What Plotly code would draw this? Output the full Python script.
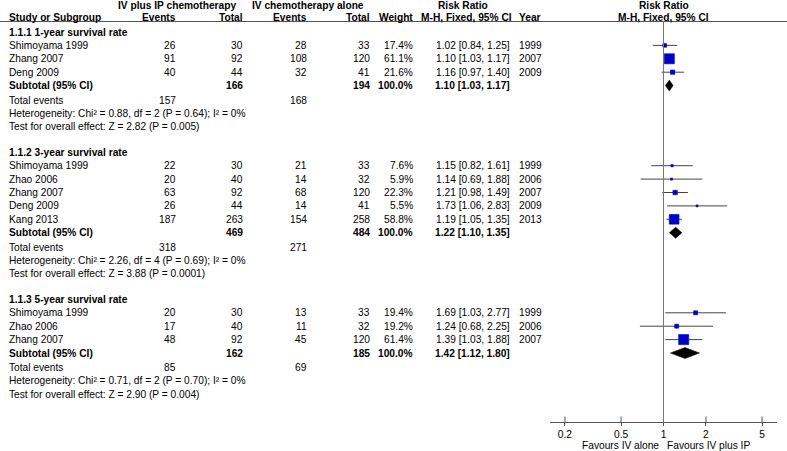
import plotly.graph_objects as go

# ---------------- data ----------------
section_titles = ["1.1.1 1-year survival rate", "1.1.2 3-year survival rate", "1.1.3 5-year survival rate"]

s1_study = ["Shimoyama 1999", "Zhang 2007", "Deng 2009"]
s1_ev_ip = [26, 91, 40]
s1_tot_ip = [30, 92, 44]
s1_ev_iv = [28, 108, 32]
s1_tot_iv = [33, 120, 41]
s1_weight = [17.4, 61.1, 21.6]
s1_rr = [1.02, 1.10, 1.16]
s1_lo = [0.84, 1.03, 0.97]
s1_hi = [1.25, 1.17, 1.40]
s1_year = [1999, 2007, 2009]

s2_study = ["Shimoyama 1999", "Zhao 2006", "Zhang 2007", "Deng 2009", "Kang 2013"]
s2_ev_ip = [22, 20, 63, 26, 187]
s2_tot_ip = [30, 40, 92, 44, 263]
s2_ev_iv = [21, 14, 68, 14, 154]
s2_tot_iv = [33, 32, 120, 41, 258]
s2_weight = [7.6, 5.9, 22.3, 5.5, 58.8]
s2_rr = [1.15, 1.14, 1.21, 1.73, 1.19]
s2_lo = [0.82, 0.69, 0.98, 1.06, 1.05]
s2_hi = [1.61, 1.88, 1.49, 2.83, 1.35]
s2_year = [1999, 2006, 2007, 2009, 2013]

s3_study = ["Shimoyama 1999", "Zhao 2006", "Zhang 2007"]
s3_ev_ip = [20, 17, 48]
s3_tot_ip = [30, 40, 92]
s3_ev_iv = [13, 11, 45]
s3_tot_iv = [33, 32, 120]
s3_weight = [19.4, 19.2, 61.4]
s3_rr = [1.69, 1.24, 1.39]
s3_lo = [1.03, 0.68, 1.03]
s3_hi = [2.77, 2.25, 1.88]
s3_year = [1999, 2006, 2007]

sub_tot_ip = [166, 469, 162]
sub_tot_iv = [194, 484, 185]
sub_weight = [100.0, 100.0, 100.0]
sub_rr = [1.10, 1.22, 1.42]
sub_lo = [1.03, 1.10, 1.12]
sub_hi = [1.17, 1.35, 1.80]
total_ev_ip = [157, 318, 85]
total_ev_iv = [168, 271, 69]
het_chi2 = [0.88, 2.26, 0.71]
het_df = [2, 4, 2]
het_p = ["0.64", "0.69", "0.70"]
het_i2 = [0, 0, 0]
z_val = [2.82, 3.88, 2.90]
z_p = ["0.005", "0.0001", "0.004"]

tick_vals = [0.2, 0.5, 1, 2, 5]
tick_text = ["0.2", "0.5", "1", "2", "5"]

sections = [
    (s1_study, s1_ev_ip, s1_tot_ip, s1_ev_iv, s1_tot_iv, s1_weight, s1_rr, s1_lo, s1_hi, s1_year),
    (s2_study, s2_ev_ip, s2_tot_ip, s2_ev_iv, s2_tot_iv, s2_weight, s2_rr, s2_lo, s2_hi, s2_year),
    (s3_study, s3_ev_ip, s3_tot_ip, s3_ev_iv, s3_tot_iv, s3_weight, s3_rr, s3_lo, s3_hi, s3_year),
]

# ---------------- layout constants ----------------
W, H = 787, 451
FONT = "Liberation Sans, Arial, Helvetica, sans-serif"
FS = 10.2
TXT = "#000000"
PITCH = 13.4
X_STUDY, X_EV_IP, X_TOT_IP, X_EV_IV, X_TOT_IV, X_WT, X_CI, X_YEAR = 9, 176, 243, 307, 370, 413, 510, 519
AXIS_Y = 422
HEADER_LINE_Y = 21.5

annotations = []


def txt(x, y, s, anchor="left", bold=False, size=FS):
    annotations.append(dict(
        x=x / W, y=y, xref="paper", yref="y", text=("<b>%s</b>" % s) if bold else s,
        showarrow=False, xanchor=anchor, yanchor="middle",
        font=dict(family=FONT, size=size, color=TXT), borderpad=0, borderwidth=0,
    ))


# headers
txt(118, 5, "IV plus IP chemotherapy", "left", True)
txt(252, 5, "IV chemotherapy alone", "left", True)
txt(463, 5, "Risk Ratio", "center", True)
txt(663.5, 5, "Risk Ratio", "center", True)
txt(X_STUDY, 17, "Study or Subgroup", "left", True)
txt(X_EV_IP, 17, "Events", "right", True)
txt(X_TOT_IP, 17, "Total", "right", True)
txt(X_EV_IV, 17, "Events", "right", True)
txt(X_TOT_IV, 17, "Total", "right", True)
txt(X_WT, 17, "Weight", "right", True)
txt(512, 17, "M-H, Fixed, 95% CI", "right", True)
txt(X_YEAR, 17, "Year", "left", True)
txt(663.5, 17, "M-H, Fixed, 95% CI", "center", True)

ci_x, ci_y = [], []
sq_x, sq_y, sq_s = [], [], []
dia_x, dia_y = [], []

y = 32.0
for k, (study, ev_ip, tot_ip, ev_iv, tot_iv, wt, rr, lo, hi, yr) in enumerate(sections):
    txt(X_STUDY, y, section_titles[k], "left", True)
    for i in range(len(study)):
        yi = y + PITCH * (i + 1)
        txt(X_STUDY, yi, study[i])
        txt(X_EV_IP, yi, str(ev_ip[i]), "right")
        txt(X_TOT_IP, yi, str(tot_ip[i]), "right")
        txt(X_EV_IV, yi, str(ev_iv[i]), "right")
        txt(X_TOT_IV, yi, str(tot_iv[i]), "right")
        txt(X_WT, yi, "%.1f%%" % wt[i], "right")
        txt(X_CI, yi, "%.2f [%.2f, %.2f]" % (rr[i], lo[i], hi[i]), "right")
        txt(X_YEAR, yi, str(yr[i]), "left")
        ci_x += [lo[i], hi[i], None]
        ci_y += [yi, yi, None]
        sq_x.append(rr[i])
        sq_y.append(yi)
        sq_s.append(1.2 + 0.145 * wt[i])
    ys = y + PITCH * (len(study) + 1)
    txt(X_STUDY, ys, "Subtotal (95% CI)", "left", True)
    txt(X_TOT_IP, ys, str(sub_tot_ip[k]), "right", True)
    txt(X_TOT_IV, ys, str(sub_tot_iv[k]), "right", True)
    txt(X_WT, ys, "%.1f%%" % sub_weight[k], "right", True)
    txt(X_CI, ys, "%.2f [%.2f, %.2f]" % (sub_rr[k], sub_lo[k], sub_hi[k]), "right", True)
    dia_x += [sub_lo[k], sub_rr[k], sub_hi[k], sub_rr[k], sub_lo[k], None]
    dia_y += [ys, ys - 5.5, ys, ys + 5.5, ys, None]
    yt = ys + 14.6
    txt(X_STUDY, yt, "Total events")
    txt(X_EV_IP, yt, str(total_ev_ip[k]), "right")
    txt(X_EV_IV, yt, str(total_ev_iv[k]), "right")
    yh = yt + 13.3
    txt(X_STUDY, yh, "Heterogeneity: Chi² = %.2f, df = %d (P = %s); I² = %d%%" % (het_chi2[k], het_df[k], het_p[k], het_i2[k]))
    yz = yh + 13.3
    txt(X_STUDY, yz, "Test for overall effect: Z = %.2f (P = %s)" % (z_val[k], z_p[k]))
    y = yz + 25.5

# favours labels
txt(659, 445, "Favours IV alone", "right")
txt(667, 445, "Favours IV plus IP", "left")

fig = go.Figure()
fig.add_trace(go.Scatter(x=ci_x, y=ci_y, mode="lines", line=dict(color="#444444", width=1),
                         hoverinfo="skip", showlegend=False))
fig.add_trace(go.Scatter(x=sq_x, y=sq_y, mode="markers",
                         marker=dict(symbol="square", size=sq_s, color="#0000CC", opacity=1,
                                     line=dict(width=0.6, color="#0000CC")),
                         opacity=1, showlegend=False))
fig.add_trace(go.Scatter(x=dia_x, y=dia_y, mode="lines", fill="toself", fillcolor="black",
                         line=dict(color="black", width=0.5), showlegend=False))
# upward part of the axis ticks
fig.add_trace(go.Scatter(x=tick_vals, y=[AXIS_Y - 2] * len(tick_vals), mode="markers",
                         marker=dict(symbol="line-ns", size=5, line=dict(color="#555555", width=1)),
                         hoverinfo="skip", showlegend=False))

shapes = [
    dict(type="line", xref="paper", yref="y", x0=0, x1=1, y0=HEADER_LINE_Y, y1=HEADER_LINE_Y,
         line=dict(color="#555555", width=1)),
    dict(type="line", xref="x", yref="y", x0=1, x1=1, y0=HEADER_LINE_Y, y1=AXIS_Y,
         line=dict(color="#777777", width=1)),
]

fig.update_layout(
    width=W, height=H, autosize=False,
    margin=dict(l=0, r=0, t=0, b=0, autoexpand=False),
    paper_bgcolor="white", plot_bgcolor="white",
    annotations=annotations, shapes=shapes,
    xaxis=dict(type="log", range=[-0.805, 0.805], domain=[550 / W, 777 / W],
               anchor="free", position=1 - AXIS_Y / H, automargin=False,
               showline=True, linecolor="#555555", linewidth=1,
               tickvals=tick_vals, ticktext=tick_text, ticks="outside", ticklen=3,
               tickcolor="#555555", tickwidth=1,
               tickfont=dict(family=FONT, size=FS, color=TXT),
               showgrid=False, zeroline=False, fixedrange=True),
    yaxis=dict(range=[H, 0], domain=[0, 1], visible=False, fixedrange=True, automargin=False),
    showlegend=False,
)

fig.write_html("out.html", config={"displayModeBar": False},
               post_script="document.body.style.margin='0';document.body.style.padding='0';")
